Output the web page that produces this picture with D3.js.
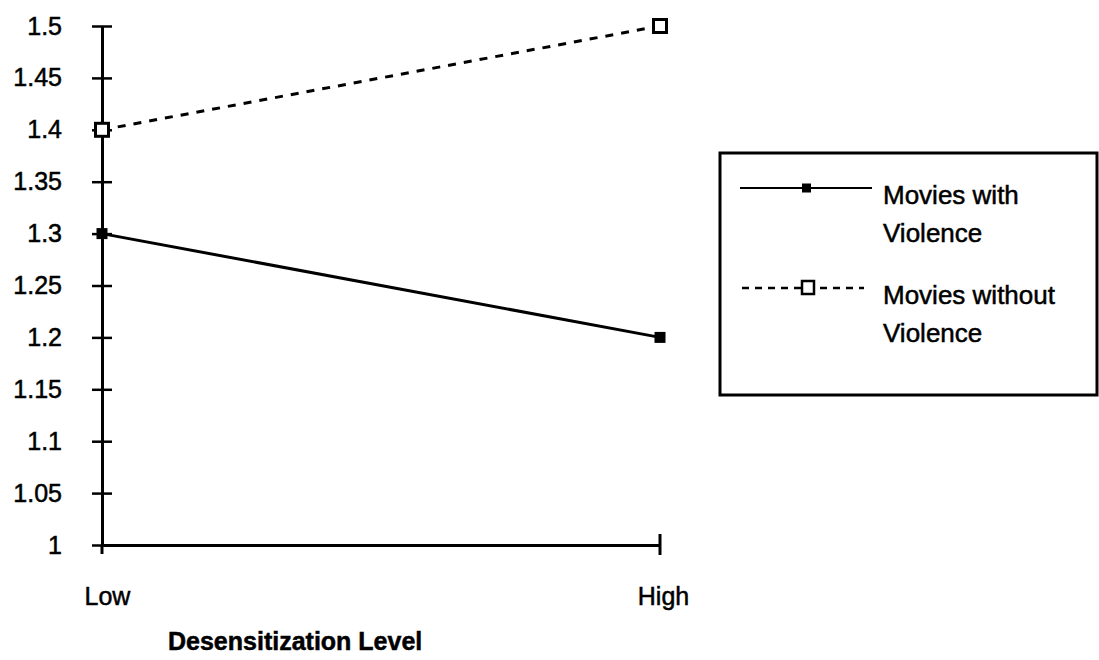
<!DOCTYPE html>
<html><head><meta charset="utf-8">
<script src="https://cdn.jsdelivr.net/npm/d3@7"></script>
<style>body{margin:0;background:#fff}svg text{font-family:"Liberation Sans",Arial,sans-serif;fill:#000}</style>
</head><body><svg id="c" width="1099" height="660"></svg>
<script>
const categories = ["Low", "High"];
const withViolence = [1.3, 1.2];
const withoutViolence = [1.4, 1.5];
const yTicks = [1, 1.05, 1.1, 1.15, 1.2, 1.25, 1.3, 1.35, 1.4, 1.45, 1.5];
const seriesNames = [["Movies with", "Violence"], ["Movies without", "Violence"]];
const xTitle = "Desensitization Level";

const FONT = '"Liberation Sans",Arial,sans-serif';
const svg = d3.select("#c");
const x = d3.scalePoint().domain(categories).range([102, 660]);
const y = d3.scaleLinear().domain([1, 1.5]).range([545, 26]);

// y axis
const yAx = svg.append("g").attr("transform", "translate(102,0)")
  .call(d3.axisLeft(y).tickValues(yTicks).tickSize(10).tickSizeOuter(0)
    .tickFormat(d => String(+d.toFixed(2))));
yAx.select(".domain").attr("stroke", "#000").attr("stroke-width", 3);
yAx.selectAll(".tick line").attr("x2", 10).attr("x1", -10).attr("stroke-width", 2.5);
yAx.selectAll(".tick text").attr("x", -40).attr("font-size", 25).style("font-family", FONT);
svg.append("line").attr("x1", 102).attr("x2", 102).attr("y1", 545).attr("y2", 554).attr("stroke", "#000").attr("stroke-width", 3);

// x axis
const xAx = svg.append("g").attr("transform", "translate(0,545)")
  .call(d3.axisBottom(x).tickSize(0).tickSizeOuter(0));
xAx.select(".domain").attr("stroke", "#000").attr("stroke-width", 3);
xAx.selectAll(".tick text").attr("y", 42).attr("font-size", 25).style("font-family", FONT)
  .attr("dx", (d, i) => i === 0 ? 5 : 3);
svg.append("line").attr("x1", x("High")).attr("x2", x("High")).attr("y1", 534).attr("y2", 555).attr("stroke", "#000").attr("stroke-width", 3);

svg.append("text").attr("x", 168).attr("y", 650)
  .attr("font-size", 25).attr("font-weight", "bold").text(xTitle);

const line = d3.line().x((d, i) => x(categories[i])).y(d => y(d));
svg.append("path").datum(withViolence).attr("d", line).attr("fill", "none").attr("stroke", "#000").attr("stroke-width", 3);
svg.append("path").datum(withoutViolence).attr("d", line).attr("fill", "none").attr("stroke", "#000").attr("stroke-width", 3).attr("stroke-dasharray", "8,8");

svg.selectAll(".m1").data(withViolence).enter().append("rect")
  .attr("x", (d, i) => x(categories[i]) - 5.5).attr("y", d => y(d) - 5.5).attr("width", 11).attr("height", 11).attr("fill", "#000");
svg.selectAll(".m2").data(withoutViolence).enter().append("rect")
  .attr("x", (d, i) => x(categories[i]) - 6.5).attr("y", d => y(d) - 6.5).attr("width", 13).attr("height", 13).attr("fill", "#fff").attr("stroke", "#000").attr("stroke-width", 3);

// legend
const lg = svg.append("g");
lg.append("rect").attr("x", 720).attr("y", 153).attr("width", 377).attr("height", 242).attr("fill", "none").attr("stroke", "#000").attr("stroke-width", 3);
const ly = [188, 288];
lg.append("line").attr("x1", 740).attr("x2", 872).attr("y1", ly[0]).attr("y2", ly[0]).attr("stroke", "#000").attr("stroke-width", 2);
lg.append("rect").attr("x", 802).attr("y", ly[0] - 4.5).attr("width", 9).attr("height", 9).attr("fill", "#000");
lg.append("line").attr("x1", 742).attr("x2", 864).attr("y1", ly[1]).attr("y2", ly[1]).attr("stroke", "#000").attr("stroke-width", 2.5).attr("stroke-dasharray", "7,6");
lg.append("rect").attr("x", 802).attr("y", ly[1] - 7).attr("width", 12).attr("height", 13).attr("fill", "#fff").attr("stroke", "#000").attr("stroke-width", 2.5);
seriesNames.forEach((n, i) => {
  const t = lg.append("text").attr("font-size", 26);
  t.append("tspan").attr("x", 883).attr("y", 204 + i * 100).text(n[0]);
  t.append("tspan").attr("x", 883).attr("y", 242 + i * 100).text(n[1]);
});

// slightly heavier glyphs, like the scanned original
svg.selectAll("text").attr("stroke", "#000").attr("stroke-width", 0.5);
</script></body></html>
